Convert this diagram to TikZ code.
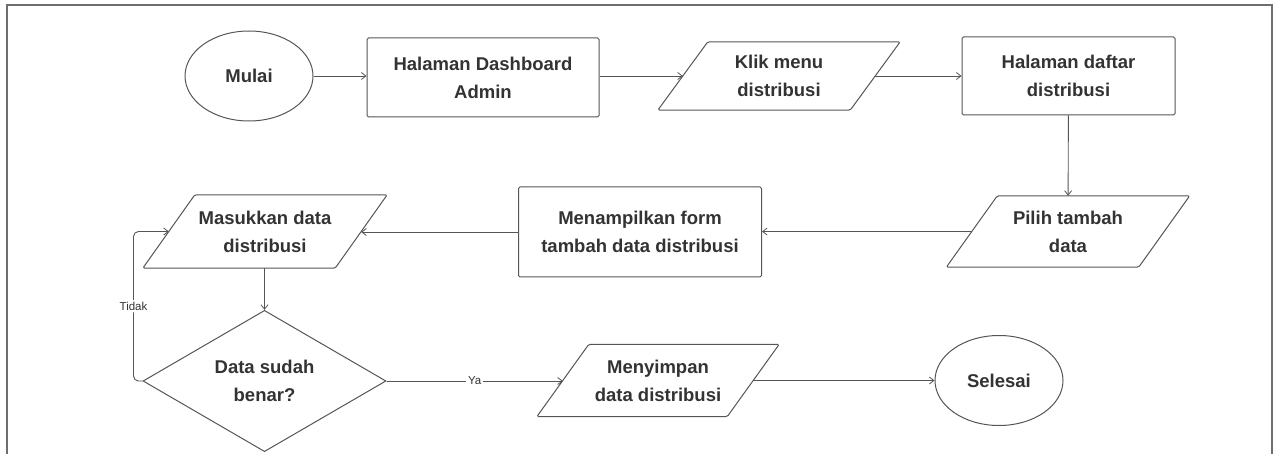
\documentclass[tikz,border=0pt]{standalone}
\usepackage{fontspec}
\setmainfont{Liberation Sans}
\usetikzlibrary{shapes.geometric,arrows.meta}
\definecolor{txt}{HTML}{333333}
\definecolor{ln}{HTML}{555555}
\definecolor{frm}{HTML}{6E6E6E}
\tikzset{
  box/.style={draw=ln,line width=1pt,rounded corners=1.5pt,inner sep=0pt,align=center,
    text=txt,font=\fontsize{18.5}{28}\selectfont\bfseries},
  term/.style={box,ellipse,rounded corners=0pt,minimum width=128pt,minimum height=90pt},
  para/.style={inner sep=0pt,align=center,text=txt,font=\fontsize{18.5}{28}\selectfont\bfseries},
  dec/.style={box,diamond,rounded corners=0pt,minimum width=243pt,minimum height=135pt},
  conn/.style={draw=ln,line width=0.9pt,-{Straight Barb[length=4.5pt,width=7pt,line width=0.8pt]}},
  lbl/.style={fill=white,text=txt,font=\fontsize{11.5}{13}\selectfont,inner sep=2pt},
}
\newcommand\paraoutline[2]{\draw[draw=ln,line width=1pt,rounded corners=1.5pt]
  ([xshift=#2]#1.north west) -- ([xshift=#2]#1.north east) --
  ([xshift=-#2]#1.south east) -- ([xshift=-#2]#1.south west) -- cycle;}
\begin{document}
\begin{tikzpicture}[x=1pt,y=-1pt]
\useasboundingbox (0,0) rectangle (1275,454);
\draw[frm,line width=1.3pt] (7,454) -- (7,5) -- (1272,5) -- (1272,454);

\node[term] (mulai) at (249,76) {Mulai};
\node[box,minimum width=232pt,minimum height=79pt] (dash) at (483,77.5) {Halaman Dashboard\\Admin};
\node[para,minimum width=192pt,minimum height=68pt] (klik) at (779,76) {Klik menu\\distribusi};
\paraoutline{klik}{25pt}
\node[box,minimum width=213pt,minimum height=78pt] (daftar) at (1068.5,76) {Halaman daftar\\distribusi};

\node[para,minimum width=192pt,minimum height=71pt] (pilih) at (1068,231.5) {Pilih tambah\\data};
\paraoutline{pilih}{25.5pt}
\node[box,minimum width=243pt,minimum height=90pt] (form) at (640,232) {Menampilkan form\\tambah data distribusi};
\node[para,minimum width=192pt,minimum height=73pt] (masuk) at (265,231.5) {Masukkan data\\distribusi};
\paraoutline{masuk}{26pt}

\node[dec] (cek) at (264.5,381) {Data sudah\\benar?};
\node[para,minimum width=190pt,minimum height=72pt] (simpan) at (658,380.5) {Menyimpan\\data distribusi};
\paraoutline{simpan}{26pt}
\node[term] (selesai) at (999,380.5) {Selesai};

\draw[conn] (mulai.east) -- (mulai.east -| dash.west);
\draw[conn] (dash.east |- klik.west) -- (klik.west);
\draw[conn] (klik.east) -- (daftar.west |- klik.east);
\draw[conn] (daftar) -- (pilih);
\draw[conn] (pilih.west) -- (form.east |- pilih.west);
\draw[conn] (form.west) -- (masuk.east |- form.west);
\draw[conn] (masuk.south -| cek.north) -- (cek.north);
\draw[conn,rounded corners=5pt] (cek.west) -- ++(-9,0) |- (masuk.west)
  node[lbl,pos=0.25] {Tidak};
\draw[conn] (cek.east) -- node[lbl] {Ya} (simpan.west |- cek.east);
\draw[conn] (simpan.east) -- (selesai.west |- simpan.east);
\end{tikzpicture}
\end{document}
